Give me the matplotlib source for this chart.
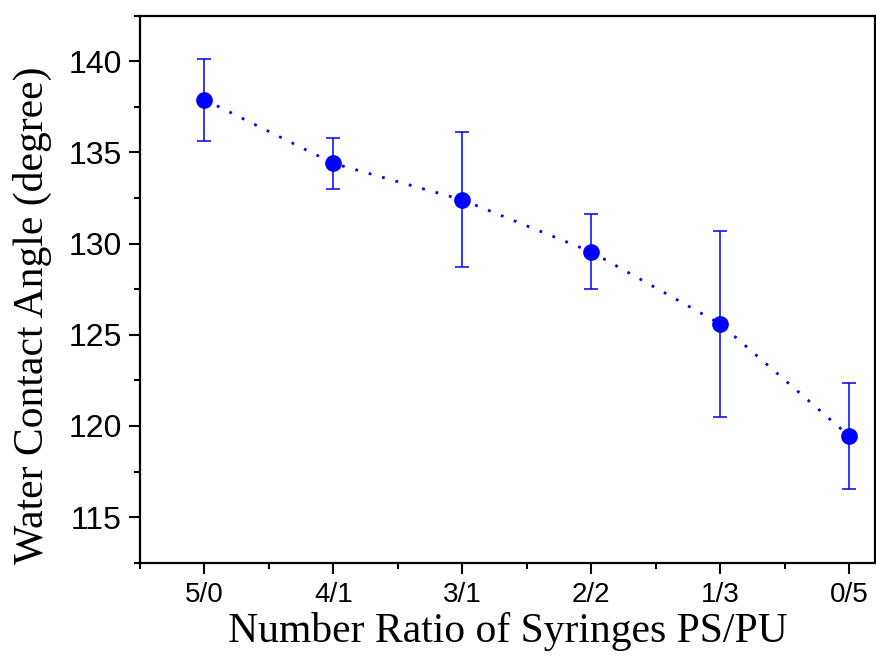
# Water contact angle vs PS/PU syringe ratio

import numpy as np
from matplotlib import pyplot as plt
from matplotlib.ticker import MultipleLocator

ratios = ['5/0', '4/1', '3/1', '2/2', '1/3', '0/5']
angle = [137.9, 134.4, 132.4, 129.55, 125.6, 119.45]
angle_err = [2.25, 1.42, 3.7, 2.05, 5.1, 2.9]

blue = '#0000ff'
plt.rcParams['font.family'] = 'Liberation Sans'

fig = plt.figure(figsize=(8.76, 6.61), dpi=100)
ax = fig.add_axes([0.1598, 0.1487, 0.8390, 0.8275])

x = np.arange(1, len(ratios) + 1)
ax.plot(x, angle, color=blue, lw=2.0, linestyle=(0, (1.0, 4.0)), zorder=2)
ax.errorbar(x, angle, yerr=angle_err, fmt='o', color=blue, ms=11, elinewidth=1.1,
            capsize=5, capthick=1.1, zorder=3)

ax.set_xlim(0.5, 6.2)
ax.set_ylim(112.5, 142.5)
ax.set_xticks(x)
ax.set_xticklabels(ratios)
ax.xaxis.set_minor_locator(MultipleLocator(0.5))
ax.yaxis.set_major_locator(MultipleLocator(5))
ax.yaxis.set_minor_locator(MultipleLocator(2.5))

ax.tick_params(axis='x', which='major', direction='out', length=8, width=1.5, pad=6, labelsize=20)
ax.tick_params(axis='x', which='minor', direction='out', length=4, width=1.5)
ax.tick_params(axis='y', which='major', direction='out', length=8, width=1.5, pad=5, labelsize=23)
ax.tick_params(axis='y', which='minor', direction='out', length=4, width=1.5)
for s in ax.spines.values():
    s.set_linewidth(1.6)

ax.set_xlabel('Number Ratio of Syringes PS/PU', fontsize=30, family='Liberation Serif')
ax.set_ylabel('Water Contact Angle (degree)', fontsize=30, family='Liberation Serif')
ax.xaxis.set_label_coords(0.5, -0.09)
ax.yaxis.set_label_coords(-0.12, 0.453)

fig.savefig('out.png', dpi=100)
